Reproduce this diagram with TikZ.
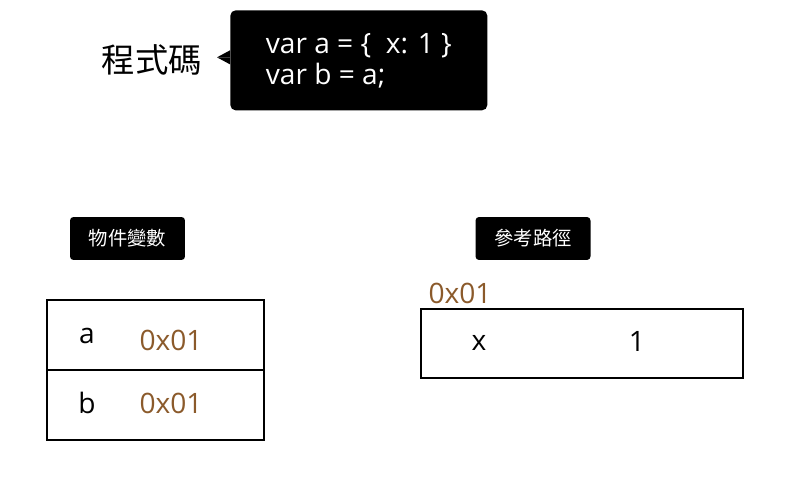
\documentclass[tikz,border=0pt]{standalone}
\usepackage{fontspec}
\setmainfont{Open Sans}
\newfontfamily\cjk{Noto Sans CJK TC}
\usetikzlibrary{positioning}
\definecolor{addrbrown}{RGB}{139,90,43}

\begin{document}
\begin{tikzpicture}[x=0.02cm,y=-0.02cm,
  codebox/.style={fill=black,text=white,rounded corners=3pt,align=left,
    minimum width=5.14cm,minimum height=2cm,
    font=\fontsize{16}{17.6}\selectfont},
  tag/.style={fill=black,text=white,rounded corners=2pt,minimum width=2.3cm,
    minimum height=0.86cm,font=\cjk\fontsize{11}{13}\selectfont},
  cell/.style={draw,line width=1.2pt,minimum width=4.34cm,minimum height=1.4cm},
  addr/.style={text=addrbrown,font=\fontsize{16}{18}\selectfont},
  val/.style={font=\fontsize{16}{18}\selectfont}]
\useasboundingbox (0,0) rectangle (800,500);

% code
\node[codebox,anchor=north west] (code) at (230,10) {var a = \{\ \ x: 1 \}\\var b = a;\hfill\null};
\fill ([yshift=0.06cm]code.west) -- ++(-13,0) -- ++(13,7) -- cycle;
\fill ([yshift=0.06cm]code.west) ++(-13,0) -- ++(13,-7) -- ++(0,7) -- cycle;
\node[font=\cjk\fontsize{19}{22}\selectfont] (codelabel) at (152,60) {程式碼};

% tags
\node[tag] (objtag) at (127.5,238.5) {物件變數};
\node[tag] (reftag) at (533,238.5) {參考路徑};

% variables
\node[cell] (cella) at (155.5,335) {};
\node[cell] (cellb) at (155.5,405) {};
\node[val] (namea) at (87,336) {a};
\node[addr] (addra) at (171,340) {0x01};
\node[val] (nameb) at (87,403) {b};
\node[addr] (addrb) at (171,403) {0x01};

% reference
\node[draw,line width=1.2pt,minimum width=6.44cm,minimum height=1.38cm] (obj) at (582,343.5) {};
\node[addr] (objaddr) at (460,293) {0x01};
\node[val] (keyx) at (479,343) {x};
\node[val] (valx) at (637,341) {1};
\end{tikzpicture}
\end{document}
